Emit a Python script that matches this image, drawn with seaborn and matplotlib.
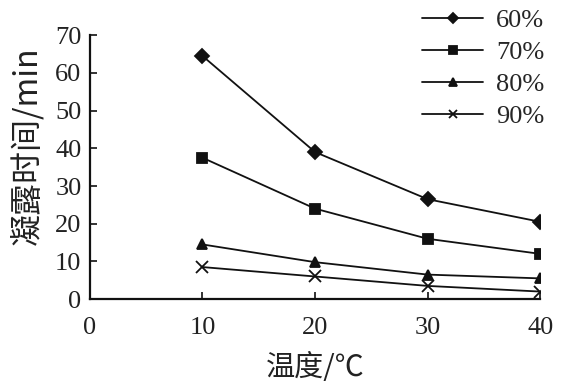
import matplotlib
matplotlib.use("Agg")
import matplotlib.pyplot as plt
import seaborn as sns
import pandas as pd

temps = [10, 20, 30, 40]
s60 = [64.5, 39.0, 26.5, 20.5]
s70 = [37.5, 24.0, 16.0, 12.0]
s80 = [14.5, 9.8, 6.5, 5.5]
s90 = [8.5, 6.0, 3.5, 2.0]
labels = ["60%", "70%", "80%", "90%"]
xticks = [0, 10, 20, 30, 40]
yticks = [0, 10, 20, 30, 40, 50, 60, 70]

sns.set_theme(style="ticks")
plt.rcParams['font.family'] = ['Liberation Serif', 'Noto Sans CJK SC']

fig = plt.figure(figsize=(5.76, 3.91), dpi=100)
ax = fig.add_axes([0.156, 0.235, 0.782, 0.675])
markers = ["D", "s", "^", "x"]
for lab, vals, m in zip(labels, [s60, s70, s80, s90], markers):
    df = pd.DataFrame({"温度": temps, "时间": vals})
    sns.lineplot(data=df, x="温度", y="时间", marker=m, color="#111111", ax=ax,
                 linewidth=1.3, markersize=7 if m != "x" else 8,
                 markeredgecolor="#111111", markeredgewidth=1.3, label=lab)
ax.set_xlim(0, 40)
ax.set_ylim(0, 70)
ax.set_xticks(xticks)
ax.set_yticks(yticks)
ax.tick_params(direction="in", length=5, width=1.2, colors="#111111", labelsize=19, labelcolor="#222222")
ax.tick_params(axis="x", pad=13)
ax.tick_params(axis="y", pad=6)
ax.set_xlabel("温度/℃", fontsize=21, family=['Noto Sans CJK SC'], color="#222222", labelpad=10)
ax.set_ylabel("凝露时间/min", fontsize=23, family=['Noto Sans CJK SC'], color="#222222")
ax.yaxis.set_label_coords(-0.103, 0.58)
for s in ["top", "right"]:
    ax.spines[s].set_visible(False)
for s in ["left", "bottom"]:
    ax.spines[s].set_linewidth(1.6)
    ax.spines[s].set_color("#111111")
ax.legend(loc="upper left", bbox_to_anchor=(0.715, 1.14), frameon=False, fontsize=19,
          handlelength=2.3, labelspacing=0.32, handletextpad=0.5, borderaxespad=0, markerscale=0.8)
fig.savefig("out.png", dpi=100)
